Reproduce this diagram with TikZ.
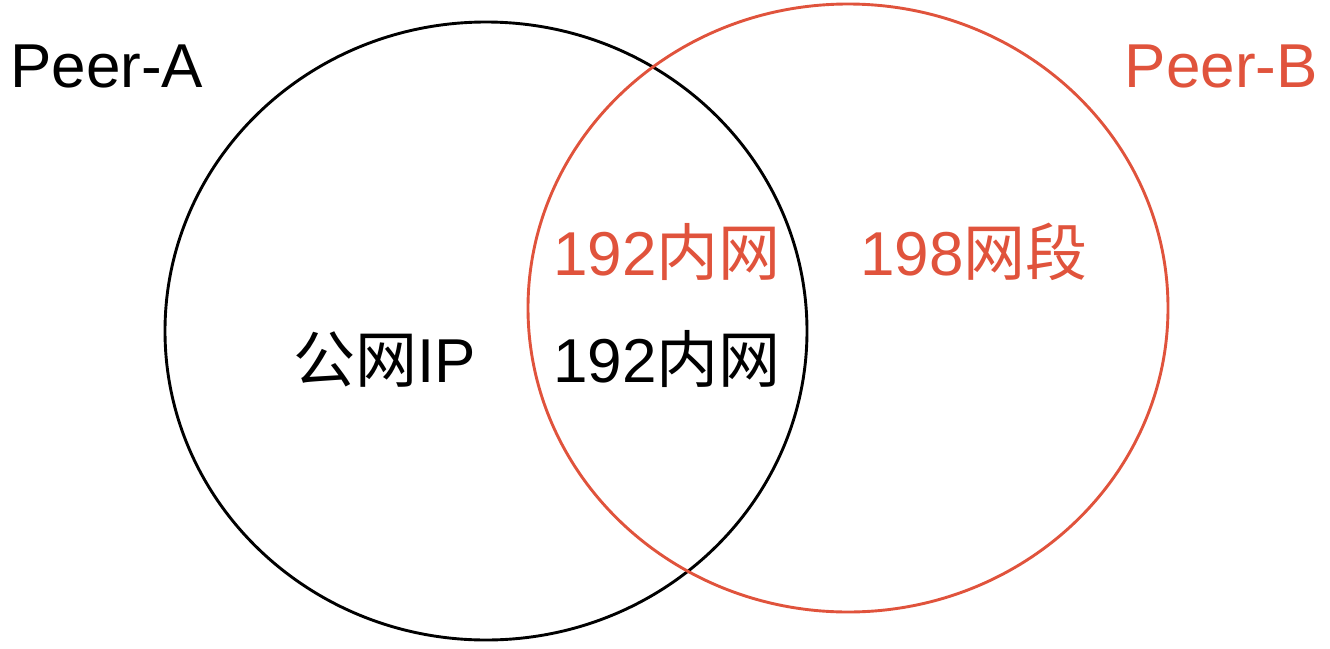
\documentclass[tikz,border=0pt]{standalone}
\usepackage{fontspec}
\setmainfont{Liberation Sans}
\newfontfamily\cjk{Noto Sans CJK SC}
\usetikzlibrary{shapes.geometric}
\definecolor{peerred}{HTML}{E0533C}
\tikzset{
  peer/.style={ellipse, line width=2.9pt, inner sep=0pt, outer sep=0pt},
  lbl/.style={anchor=base west, inner sep=0pt, font=\fontsize{62}{62}\selectfont},
}
\begin{document}
\begin{tikzpicture}[x=1pt,y=-1pt]
\useasboundingbox (0,0) rectangle (1330,648);
\node[peer, draw=black, minimum width=642pt, minimum height=618pt] (A) at (486,331) {};
\node[peer, draw=peerred, minimum width=640pt, minimum height=608pt] (B) at (848,308) {};
\node[lbl] (peerA) at (10,87) {Peer-A};
\node[lbl, anchor=base east, text=peerred] (peerB) at (1318,87) {Peer-B};
\node[lbl, text=peerred] (b192) at (553,275) {192{\cjk 内网}};
\node[lbl, text=peerred] (b198) at (860,275) {198{\cjk 网段}};
\node[lbl] (apub) at (293,382) {{\cjk 公网}IP};
\node[lbl] (a192) at (553,382) {192{\cjk 内网}};
\end{tikzpicture}
\end{document}
